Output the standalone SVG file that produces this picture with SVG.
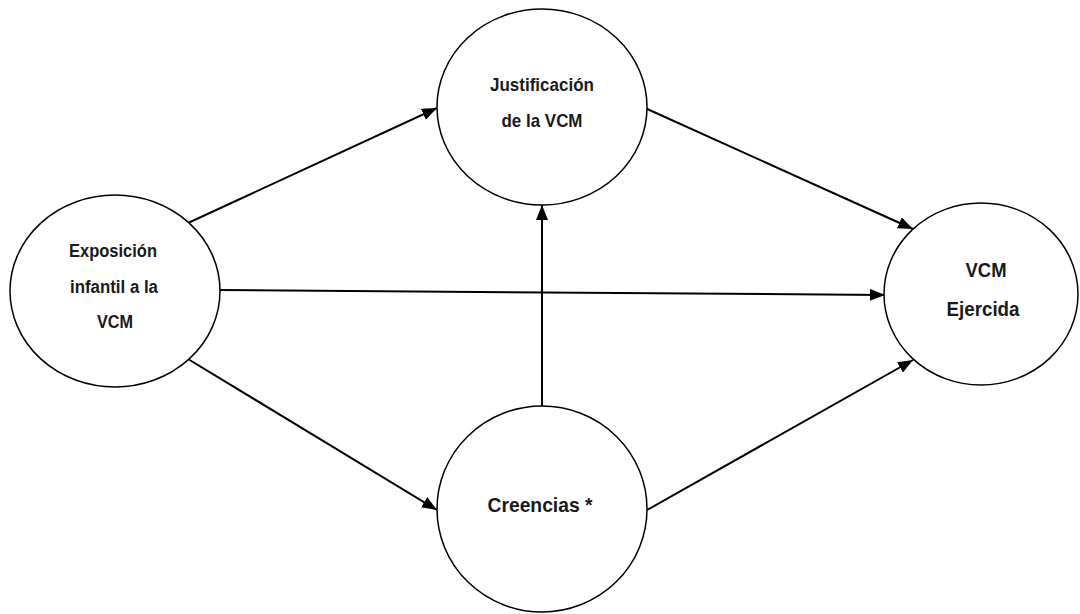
<svg xmlns="http://www.w3.org/2000/svg" width="1080" height="614" viewBox="0 0 1080 614">
<style>
.node{fill:#fff;stroke:#000;stroke-width:1.5}
.lbl{font-family:"Liberation Sans",Arial,sans-serif;font-weight:bold;fill:#1a1a1a;text-anchor:middle}
.edge{stroke:#000;stroke-width:2;fill:none;marker-end:url(#arr)}
</style>
<defs>
<marker id="arr" markerUnits="userSpaceOnUse" markerWidth="16" markerHeight="12" refX="15" refY="6" orient="auto">
<path d="M0,0 L15,6 L0,12 z" fill="#000"/>
</marker>
</defs>
<rect width="1080" height="614" fill="#fff"/>
<g id="connectors">
<line class="edge" x1="188" y1="223" x2="437" y2="108"/>
<line class="edge" x1="645" y1="108" x2="913" y2="229"/>
<line class="edge" x1="220" y1="290" x2="885" y2="295"/>
<line class="edge" x1="188" y1="359" x2="437" y2="510"/>
<line class="edge" x1="647" y1="510" x2="913" y2="360"/>
<line class="edge" x1="542" y1="406" x2="542" y2="205"/>
</g>
<g id="exposicion">
<ellipse class="node" cx="115" cy="291" rx="105" ry="96"/>
<text class="lbl" font-size="18" x="113" y="257" textLength="88" lengthAdjust="spacingAndGlyphs">Exposición</text>
<text class="lbl" font-size="18" x="114" y="293" textLength="88" lengthAdjust="spacingAndGlyphs">infantil a la</text>
<text class="lbl" font-size="18" x="115" y="328" textLength="36" lengthAdjust="spacingAndGlyphs">VCM</text>
</g>
<g id="justificacion">
<ellipse class="node" cx="542" cy="107" rx="105" ry="98"/>
<text class="lbl" font-size="19" x="542" y="91" textLength="104" lengthAdjust="spacingAndGlyphs">Justificación</text>
<text class="lbl" font-size="19" x="542" y="127" textLength="81" lengthAdjust="spacingAndGlyphs">de la VCM</text>
</g>
<g id="vcm-ejercida">
<ellipse class="node" cx="981" cy="294" rx="97" ry="91"/>
<text class="lbl" font-size="20" x="986" y="277" textLength="41" lengthAdjust="spacingAndGlyphs">VCM</text>
<text class="lbl" font-size="20" x="983" y="316" textLength="73" lengthAdjust="spacingAndGlyphs">Ejercida</text>
</g>
<g id="creencias">
<ellipse class="node" cx="542" cy="509" rx="105" ry="103"/>
<text class="lbl" font-size="21" x="540" y="512" textLength="105" lengthAdjust="spacingAndGlyphs">Creencias *</text>
</g>
</svg>
